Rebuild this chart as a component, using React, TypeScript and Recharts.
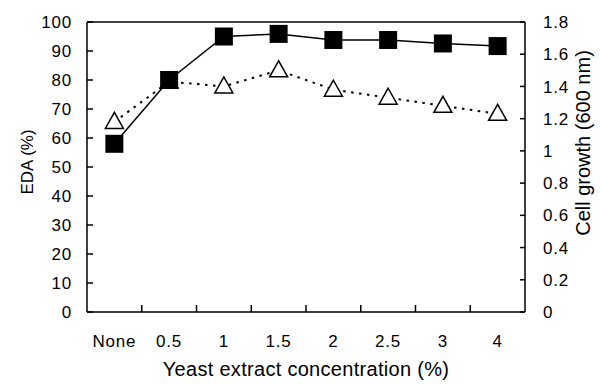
import { ComposedChart, Line, XAxis, YAxis, ReferenceLine } from "recharts";

const concentrations = ["None", "0.5", "1", "1.5", "2", "2.5", "3", "4"];
const edaPct = [58, 80, 95, 95.9, 93.8, 93.8, 92.6, 91.7];
const cellGrowth = [1.18, 1.43, 1.4, 1.5, 1.38, 1.33, 1.28, 1.23];
const edaTicks = [0, 10, 20, 30, 40, 50, 60, 70, 80, 90, 100];
const growthTicks = [0, 0.2, 0.4, 0.6, 0.8, 1, 1.2, 1.4, 1.6, 1.8];

const data = concentrations.map((c, i) => ({ conc: c, eda: edaPct[i], growth: cellGrowth[i] }));

const W = 601;
const H = 384;
const LEFT = 87;
const RIGHT = 76;
const TOP = 22;
const BOTTOM = 72;
const band = (W - LEFT - RIGHT) / concentrations.length;
const FONT = "'Liberation Sans', Arial, sans-serif";

const LeftTick = ({ x, y, payload }: any) => (
  <g>
    <line x1={x} x2={x + 6} y1={y} y2={y} stroke="#000" strokeWidth={1.5} />
    <text x={x - 15} y={y} dy="0.36em" textAnchor="end" fontSize={17} letterSpacing={0.8} fontFamily={FONT} fill="#000">
      {payload.value}
    </text>
  </g>
);

const RightTick = ({ x, y, payload }: any) => (
  <g>
    <line x1={x - 5} x2={x} y1={y} y2={y} stroke="#000" strokeWidth={1.5} />
    <text x={x + 18} y={y} dy="0.36em" textAnchor="start" fontSize={17} letterSpacing={0.8} fontFamily={FONT} fill="#000">
      {String(payload.value)}
    </text>
  </g>
);

const BottomTick = ({ x, y, payload, index }: any) => (
  <g>
    {index < concentrations.length - 1 && (
      <line x1={x + band / 2} x2={x + band / 2} y1={y} y2={y - 7} stroke="#000" strokeWidth={1.5} />
    )}
    <text x={x} y={y + 35} textAnchor="middle" fontSize={17} letterSpacing={0.8} fontFamily={FONT} fill="#000">
      {payload.value}
    </text>
  </g>
);

const SquareDot = ({ cx, cy }: any) => (
  <rect x={cx - 9} y={cy - 9} width={18} height={18} fill="#000" />
);

const TriangleDot = ({ cx, cy }: any) => (
  <polygon
    points={`${cx},${cy - 9.5} ${cx - 9},${cy + 6.5} ${cx + 9},${cy + 6.5}`}
    fill="#fff"
    stroke="#000"
    strokeWidth={1.5}
  />
);

export default function App() {
  return (
    <div style={{ position: "absolute", left: 0, top: 0, background: "#fff" }}>
      <ComposedChart width={W} height={H} data={data} margin={{ top: TOP, right: 0, bottom: 0, left: 0 }}>
        <XAxis
          dataKey="conc"
          scale="band"
          height={BOTTOM}
          stroke="#000"
          strokeWidth={1.5}
          tickLine={false}
          tickSize={0}
          tickMargin={0}
          interval={0}
          tick={<BottomTick />}
          label={{
            content: ({ viewBox }: any) => (
              <text
                x={viewBox.x + viewBox.width / 2}
                y={viewBox.y + 64}
                textAnchor="middle"
                fontSize={20}
                letterSpacing={0.3}
                fontFamily={FONT}
                fill="#000"
              >
                Yeast extract concentration (%)
              </text>
            ),
          }}
        />
        <YAxis
          yAxisId="left"
          width={LEFT}
          domain={[0, 100]}
          ticks={edaTicks}
          interval={0}
          stroke="#000"
          strokeWidth={1.5}
          tickLine={false}
          tickSize={0}
          tickMargin={0}
          tick={<LeftTick />}
          label={{
            content: ({ viewBox }: any) => (
              <text
                transform={`translate(27, ${viewBox.y + viewBox.height / 2 - 5}) rotate(-90)`}
                textAnchor="middle"
                dy="0.36em"
                fontSize={17}
                fontFamily={FONT}
                fill="#000"
              >
                EDA (%)
              </text>
            ),
          }}
        />
        <YAxis
          yAxisId="right"
          orientation="right"
          width={RIGHT}
          domain={[0, 1.8]}
          ticks={growthTicks}
          interval={0}
          stroke="#000"
          strokeWidth={1.5}
          tickLine={false}
          tickSize={0}
          tickMargin={0}
          tick={<RightTick />}
          label={{
            content: ({ viewBox }: any) => (
              <text
                transform={`translate(${viewBox.x + 58}, ${viewBox.y + viewBox.height / 2 - 24}) rotate(-90)`}
                textAnchor="middle"
                dy="0.36em"
                fontSize={20}
                fontFamily={FONT}
                fill="#000"
              >
                Cell growth (600 nm)
              </text>
            ),
          }}
        />
        <ReferenceLine yAxisId="left" y={100} stroke="#000" strokeWidth={1.5} />
        <Line
          yAxisId="right"
          dataKey="growth"
          stroke="#000"
          strokeWidth={2}
          strokeDasharray="2.5 5.5"
          dot={<TriangleDot />}
          isAnimationActive={false}
        />
        <Line
          yAxisId="left"
          dataKey="eda"
          stroke="#000"
          strokeWidth={1.5}
          dot={<SquareDot />}
          isAnimationActive={false}
        />
      </ComposedChart>
    </div>
  );
}
